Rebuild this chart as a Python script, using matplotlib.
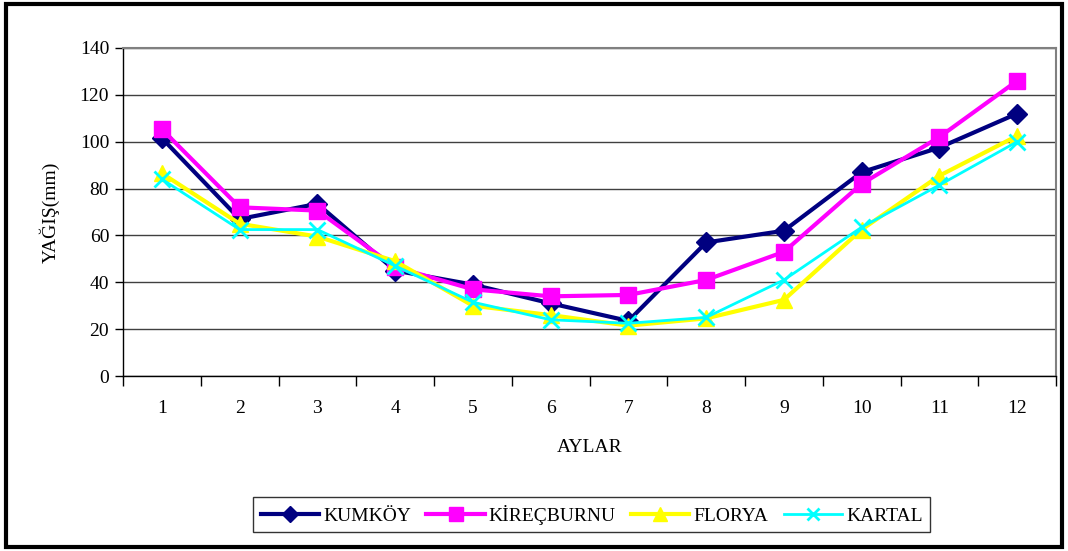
import matplotlib
matplotlib.use("Agg")
import matplotlib.pyplot as plt
import numpy as np

plt.rcParams['font.family'] = ['Liberation Serif', 'DejaVu Serif']

months = list(range(1, 13))
kumkoy = [101.5, 67, 73.5, 45, 39, 31, 23.5, 57, 62, 87, 97.5, 112]
kirecburnu = [105.3, 72, 70.6, 46.5, 37, 34, 34.6, 41, 53, 82, 102, 126]
florya = [86.5, 65, 59.5, 49, 30, 26, 21.5, 24.6, 32.5, 62.5, 85.5, 102.5]
kartal = [84, 62.5, 62.5, 47, 31.5, 24, 22.5, 25, 41, 63.5, 81.5, 100]

fig = plt.figure(figsize=(10.68, 5.51), dpi=100)
ax = fig.add_axes([0.1152, 0.3176, 0.8736, 0.5953])

ax.plot(months, kumkoy, color='#000080', lw=3, marker='D', ms=10, label='KUMKÖY', zorder=3)
ax.plot(months, kirecburnu, color='#FF00FF', lw=3, marker='s', ms=12, label='KİREÇBURNU', zorder=4)
ax.plot(months, florya, color='#FFFF00', lw=3, marker='^', ms=12, label='FLORYA', zorder=5)
ax.plot(months, kartal, color='#00FFFF', lw=2, marker='x', ms=11, mew=2, label='KARTAL', zorder=6)

ax.set_xlim(0.5, 12.5)
ax.set_ylim(0, 140)
ax.set_yticks(np.arange(0, 141, 20))
ax.yaxis.grid(True, color='#404040', lw=1)
ax.set_axisbelow(True)

# category boundaries get the ticks, labels sit between them
ax.set_xticks(np.arange(0.5, 12.6, 1))
ax.set_xticklabels([])
ax.set_xticks(months, minor=True)
ax.set_xticklabels([str(m) for m in months], minor=True)
ax.tick_params(axis='x', which='major', direction='out', length=7, width=1, color='black')
ax.tick_params(axis='x', which='minor', length=0, pad=17, labelsize=14)
ax.tick_params(axis='y', direction='out', length=6, width=1, labelsize=14, pad=4)

for side in ('top', 'right'):
    ax.spines[side].set_color('#808080')
    ax.spines[side].set_linewidth(1.5)
for side in ('left', 'bottom'):
    ax.spines[side].set_color('black')
    ax.spines[side].set_linewidth(1)

ax.set_xlabel('AYLAR', fontsize=14, labelpad=16)
ax.set_ylabel('YAĞIŞ(mm)', fontsize=14, labelpad=14)

leg = fig.legend(loc='center', bbox_to_anchor=(0.554, 0.066), ncol=4, fontsize=14,
                 frameon=True, fancybox=False, edgecolor='black', handlelength=3.0,
                 handletextpad=0.2, columnspacing=0.8, borderpad=0.4, markerscale=0.8)
leg.get_frame().set_linewidth(1)

fig.patches.append(plt.Rectangle((0.006, 0.008), 0.988, 0.984, transform=fig.transFigure,
                                 fill=False, edgecolor='black', lw=3))

fig.savefig('out.png', dpi=100)
